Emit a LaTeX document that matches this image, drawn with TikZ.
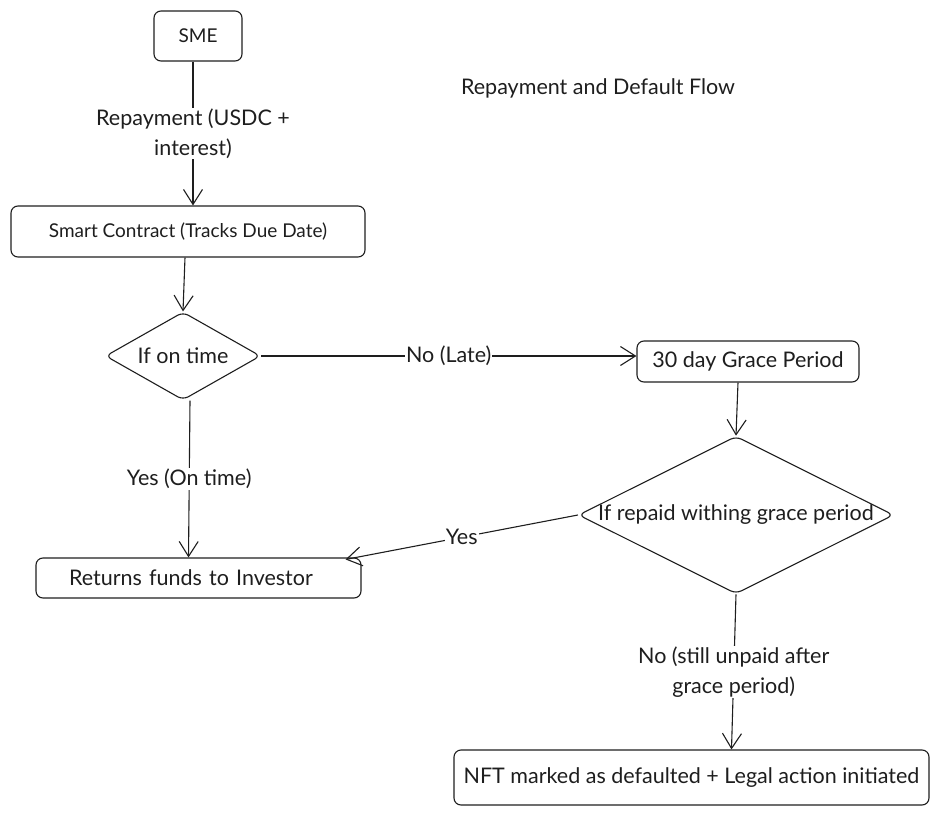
\documentclass[tikz,border=0pt]{standalone}
\usepackage{fontspec}
\setmainfont{Lato}
\usetikzlibrary{arrows.meta,shapes.geometric}
\definecolor{ink}{HTML}{1E1E1E}
\tikzset{
  >={Straight Barb[length=15pt,width=19pt]},
  every node/.style={text=ink},
  box/.style   ={draw=ink, line width=1.1pt, rounded corners=7pt, inner sep=0pt, font=\fontsize{21.5}{26}\selectfont},
  smallbox/.style={box, font=\fontsize{19}{23}\selectfont},
  dec/.style   ={draw=ink, line width=1.1pt, diamond, aspect=2, rounded corners=6pt, inner sep=0pt, font=\fontsize{21.5}{26}\selectfont},
  flow/.style  ={->, draw=ink, line width=1.1pt},
  lbl/.style   ={fill=white, inner sep=1pt, align=center, font=\fontsize{21.5}{30}\selectfont}
}
\begin{document}
\begin{tikzpicture}[x=1pt,y=-1pt]
\useasboundingbox (0,0) rectangle (940,816);
% boxes
\node[smallbox, minimum width=88pt, minimum height=50pt] (sme) at (198,36) {SME};
\node[smallbox, minimum width=354pt, minimum height=51pt] (contract) at (188,231.5) {Smart Contract (Tracks Due Date)};
\node[dec, minimum width=155pt, minimum height=88pt] (ontime) at (183,356) {If on time};
\node[box, minimum width=222pt, minimum height=41pt] (grace) at (748,361.5) {30 day Grace Period};
\node[dec, minimum width=308pt, minimum height=154pt] (repaid) at (736,515) {If repaid withing grace period};
\node[box, minimum height=40pt, text width=259pt, align=left, inner xsep=33pt] (investor) at (198.5,578) {Returns funds to Investor};
\node[box, minimum width=475pt, minimum height=55pt] (default) at (691.5,777.5) {NFT marked as defaulted + Legal action initiated};
\node[font=\fontsize{21.5}{26}\selectfont] (title) at (598,88) {Repayment and Default Flow};
% connectors
\draw[flow] ([xshift=-5pt]sme.south) -- node[lbl]{Repayment (USDC +\\interest)} ([xshift=5pt]contract.north);
\draw[flow] ([xshift=-3pt]contract.south) -- (ontime.north);
\draw[flow] (ontime.east) -- node[lbl]{No (Late)} (ontime.east -| grace.west);
\draw[flow] ([xshift=-10pt]grace.south) -- (repaid.north);
\draw[flow] (repaid.west) -- node[lbl]{Yes} ([xshift=-16pt,yshift=-2pt]investor.north east);
\draw[flow] ([xshift=7pt]ontime.south) -- node[lbl]{Yes (On time)} ([xshift=-10pt]investor.north);
\draw[flow] (repaid.south) -- node[lbl]{No (still unpaid after\\grace period)} ([xshift=40pt]default.north);
\end{tikzpicture}
\end{document}
